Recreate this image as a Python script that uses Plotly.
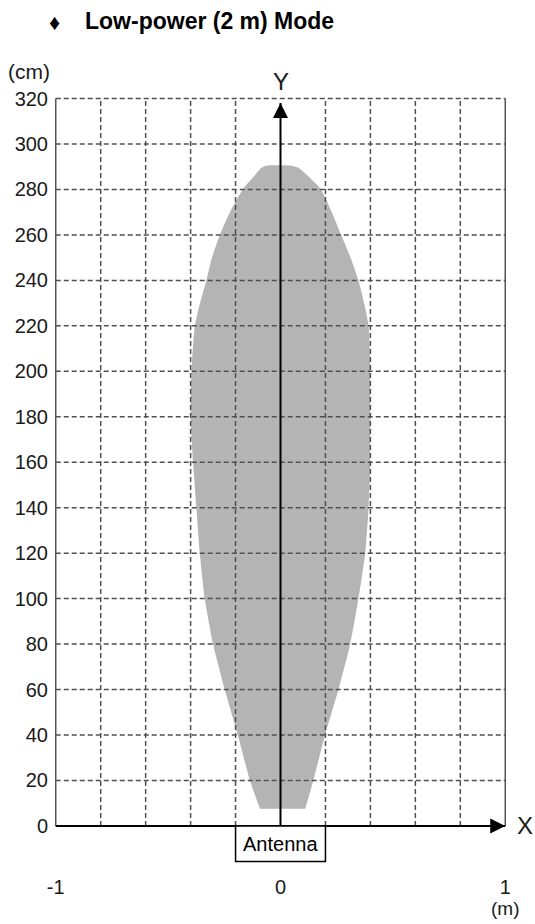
import plotly.graph_objects as go

# ---------------- data ----------------
title_text = "Low-power (2 m) Mode"
bullet_text = "♦"

# detection area outline: heights (cm) and left/right edges (m)
region_y = [7.5, 20, 40, 60, 80, 100, 120, 140, 160, 180, 200, 220, 230, 240, 250, 260, 270, 280, 286, 289.5, 290.5]
region_left = [-0.091, -0.136, -0.19, -0.248, -0.30, -0.337, -0.359, -0.374, -0.389, -0.40, -0.396,
               -0.381, -0.358, -0.33, -0.305, -0.27, -0.225, -0.168, -0.116, -0.085, -0.06]
region_right = [0.11, 0.146, 0.198, 0.258, 0.31, 0.347, 0.377, 0.392, 0.399, 0.40, 0.399,
                0.392, 0.372, 0.347, 0.312, 0.27, 0.228, 0.18, 0.121, 0.08, 0.04]

grid_x = [-0.8, -0.6, -0.4, -0.2, 0.2, 0.4, 0.6, 0.8]
grid_y = [20, 40, 60, 80, 100, 120, 140, 160, 180, 200, 220, 240, 260, 280, 300, 320]
ytick_vals = [0, 20, 40, 60, 80, 100, 120, 140, 160, 180, 200, 220, 240, 260, 280, 300, 320]
xtick_vals = [-1, 0, 1]
xtick_text = ["-1", "0", "1"]

x_min, x_max = -1, 1
y_min, y_max = 0, 320
y_arrow_tip = 318
antenna_half_width = 0.2
antenna_depth = -15.7
antenna_label = "Antenna"

FONT = "Liberation Sans, Arial, sans-serif"
TXT = "#1a1a1a"
GRID = "#505050"

fig = go.Figure()

# filled detection region
poly_x = region_right + region_left[::-1]
poly_y = region_y + region_y[::-1]
fig.add_trace(go.Scatter(x=poly_x, y=poly_y, mode="lines", fill="toself",
                         fillcolor="#b4b4b4", line=dict(width=0, shape="spline", smoothing=0.6),
                         hoverinfo="skip"))

# dashed grid
gx, gy = [], []
for yv in grid_y:
    gx += [x_min, x_max, None]
    gy += [yv, yv, None]
for xv in grid_x:
    gx += [xv, xv, None]
    gy += [y_min, y_max, None]
fig.add_trace(go.Scatter(x=gx, y=gy, mode="lines",
                         line=dict(color=GRID, width=1.5, dash="5px,3px"), hoverinfo="skip"))

# solid side borders
fig.add_trace(go.Scatter(x=[x_min, x_min, None, x_max, x_max], y=[y_min, y_max, None, y_min, y_max],
                         mode="lines", line=dict(color="#555555", width=1.5), hoverinfo="skip"))

# axes with arrows
fig.add_trace(go.Scatter(x=[x_min, x_max], y=[0, 0], mode="lines",
                         line=dict(color="black", width=2), hoverinfo="skip"))
fig.add_trace(go.Scatter(x=[0, 0], y=[0, y_arrow_tip], mode="lines",
                         line=dict(color="black", width=2), hoverinfo="skip"))
fig.add_trace(go.Scatter(x=[x_max], y=[0], mode="markers", cliponaxis=False,
                         marker=dict(symbol="arrow-right", size=15, color="black"), hoverinfo="skip"))
fig.add_trace(go.Scatter(x=[0], y=[y_arrow_tip], mode="markers", cliponaxis=False,
                         marker=dict(symbol="arrow-up", size=15, color="black"), hoverinfo="skip"))

# antenna box
fig.add_shape(type="rect", x0=-antenna_half_width, x1=antenna_half_width, y0=antenna_depth, y1=0,
              xref="x", yref="y", line=dict(color="black", width=1.5), fillcolor="white", layer="above")

anns = [
    dict(x=0, y=antenna_depth / 2, text=antenna_label, showarrow=False,
         font=dict(family=FONT, size=20, color="black")),
    dict(x=x_min, y=y_max, text="(cm)", showarrow=False, xanchor="right", yanchor="middle",
         xshift=-4, yshift=27, font=dict(family=FONT, size=21, color=TXT)),
    dict(x=0, y=y_max, text="Y", showarrow=False, yanchor="middle", yshift=17,
         font=dict(family=FONT, size=24, color=TXT)),
    dict(x=x_max, y=0, text="X", showarrow=False, xanchor="left", yanchor="middle", xshift=10,
         font=dict(family=FONT, size=24, color=TXT)),
    dict(x=x_max, y=0, text="(m)", showarrow=False, yanchor="middle", yshift=-83,
         font=dict(family=FONT, size=19, color=TXT)),
    dict(x=83 / 535, y=1 - 21 / 924, xref="paper", yref="paper", text="<b>" + title_text + "</b>",
         showarrow=False, xanchor="left", yanchor="middle",
         font=dict(family=FONT, size=23, color="black")),
    dict(x=54 / 535, y=1 - 22 / 924, xref="paper", yref="paper", text=bullet_text,
         showarrow=False, xanchor="center", yanchor="middle",
         font=dict(family=FONT, size=22, color="black")),
]
# convert paper coords for title annotations from full-figure fractions to plot-area fractions
L, R, T, B, W, H = 49, 23, 94, 54, 535, 924
for a in anns:
    if a.get("xref") == "paper":
        a["x"] = (a["x"] * W - L) / (W - L - R)
        a["y"] = ((a["y"] * H) - B) / (H - T - B)
fig.update_layout(annotations=anns)

fig.update_layout(
    width=W, height=H,
    margin=dict(l=L, r=R, t=T, b=B, pad=0),
    plot_bgcolor="white", paper_bgcolor="white", showlegend=False,
    xaxis=dict(range=[-1.03, 1.03], tickvals=xtick_vals, ticktext=xtick_text,
               showgrid=False, zeroline=False, showline=False, ticks="",
               tickfont=dict(family=FONT, size=20, color=TXT), ticklabelstandoff=3, fixedrange=True),
    yaxis=dict(range=[-19.4, 322], tickvals=ytick_vals,
               showgrid=False, zeroline=False, showline=False, ticks="",
               tickfont=dict(family=FONT, size=20, color=TXT), ticklabelstandoff=0, fixedrange=True),
)

fig.write_html("out.html", post_script="document.body.style.margin='0px';",
               config={"displayModeBar": False})
